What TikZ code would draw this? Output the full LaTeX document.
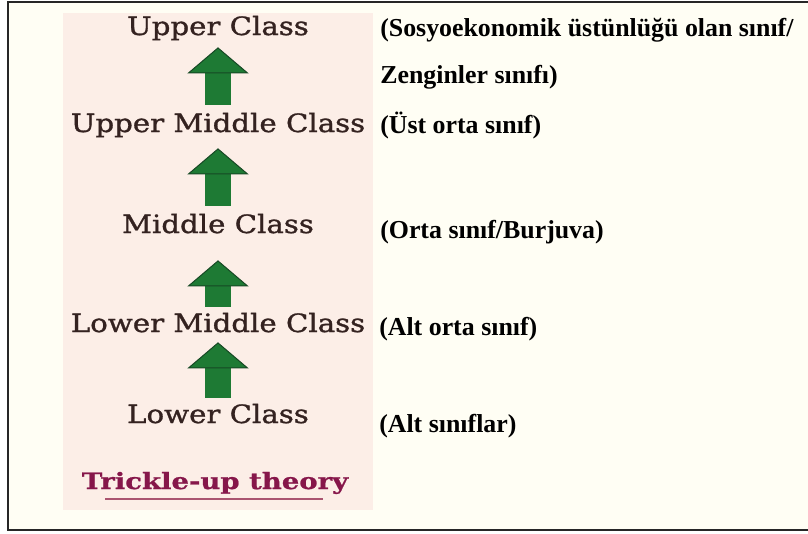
\documentclass[tikz,border=0pt]{standalone}
\usepackage{fontspec}
\usepackage{tikz}
\usetikzlibrary{arrows.meta,positioning}
\setmainfont{Liberation Serif}
\newfontfamily\classfont[FakeStretch=1.16,FakeBold=1.2]{DejaVu Serif}
\newfontfamily\theoryfont[FakeStretch=1.22,FakeBold=0.8]{DejaVu Serif}
\definecolor{cream}{RGB}{255,254,244}
\definecolor{panelpink}{RGB}{252,238,231}
\definecolor{arrowgreen}{RGB}{30,122,52}
\definecolor{arrowedge}{RGB}{22,72,36}
\definecolor{classtext}{RGB}{52,34,32}
\definecolor{theorytext}{RGB}{134,22,74}
\definecolor{theoryline}{RGB}{170,84,112}
\tikzset{
  classlabel/.style={anchor=base,inner sep=0pt,text height=12.75pt,text depth=3.75pt,text=classtext,font=\classfont\fontsize{18.9}{21}\selectfont},
  notelabel/.style={anchor=base west,inner sep=0pt,font=\bfseries\fontsize{19.4}{23}\selectfont},
  classarrow/.style={draw=arrowgreen,line width=19.5pt,-{Triangle[width=45.75pt,length=19.5pt,line width=0.75pt,fill=arrowgreen,color=arrowedge]}}
}
\begin{document}
\begin{tikzpicture}[x=0.75pt,y=-0.75pt]
   \useasboundingbox (0,0) rectangle (808,533);
   \fill[white] (0,0) rectangle (808,533);
   \fill[cream] (8,2) rectangle (808,530);
   \draw[black!85,line width=1.5pt] (808,2) -- (8,2) -- (8,530) -- (808,530);
   \fill[panelpink] (63,13) rectangle (373,510);
   \node[classlabel] (upper) at (218,35) {Upper Class};
   \node[classlabel] (upmid) at (218,132) {Upper Middle Class};
   \node[classlabel] (middle) at (218,233) {Middle Class};
   \node[classlabel] (lowmid) at (218,332) {Lower Middle Class};
   \node[classlabel] (lower) at (218,423) {Lower Class};
   \node[classlabel,text=theorytext,font=\theoryfont\bfseries\fontsize{16.9}{19}\selectfont] (theory) at (215,489) {Trickle-up theory};
   \draw[theoryline,line width=1.5pt] (105,499) -- (323,499);
   \draw[classarrow,shorten <=7.5pt,shorten >=5.25pt] (upmid) -- (upper);
   \draw[classarrow,shorten <=7.5pt,shorten >=8.25pt] (middle) -- (upmid);
   \draw[classarrow,shorten <=6pt,shorten >=16.5pt] (lowmid) -- (middle);
   \draw[classarrow,shorten <=6pt,shorten >=3.75pt] (lower) -- (lowmid);
   \node[notelabel] (noteupper) at (380,36) {(Sosyoekonomik üstünlüğü olan sınıf/};
   \node[notelabel] (noteupperb) at (380,83) {Zenginler sınıfı)};
   \node[notelabel] (noteupmid) at (380,133) {(Üst orta sınıf)};
   \node[notelabel] (notemiddle) at (380,238) {(Orta sınıf/Burjuva)};
   \node[notelabel] (notelowmid) at (379,335) {(Alt orta sınıf)};
   \node[notelabel] (notelower) at (379,432) {(Alt sınıflar)};
\end{tikzpicture}
\end{document}
